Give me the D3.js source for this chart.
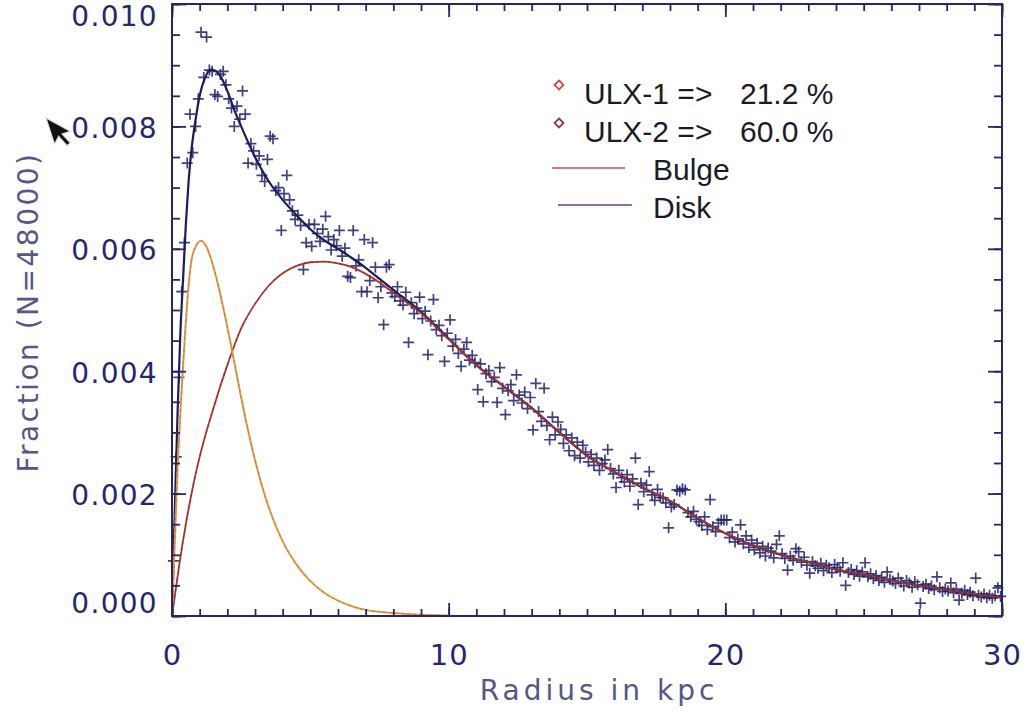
<!DOCTYPE html>
<html>
<head>
<meta charset="utf-8">
<script src="https://cdn.jsdelivr.net/npm/d3@7"></script>
<style>
  html, body { margin: 0; padding: 0; background: #ffffff; }
  svg { display: block; }
</style>
</head>
<body>
<svg id="chart" width="1024" height="717"></svg>
<script>
// Histogram of ULX radii: 0.1 kpc bins from 0 to 30 kpc, fraction per bin
const binWidth = 0.1;
const fraction = [
  0.0009, 0.0026, 0.0039, 0.0053, 0.0061, 0.0074, 0.0082, 0.00757, 0.0080, 0.00845,
  0.00954, 0.0088, 0.00946, 0.00892, 0.0089, 0.00852, 0.00849, 0.00885, 0.0089, 0.00868,
  0.00845, 0.0083, 0.0080, 0.00833, 0.00812, 0.00858, 0.0082, 0.0074, 0.00772, 0.0076,
  0.00738, 0.00752, 0.0072, 0.0071, 0.00746, 0.00784, 0.0078, 0.00695, 0.0070, 0.0063,
  0.0069, 0.0072, 0.0068, 0.00662, 0.00648, 0.00655, 0.00638, 0.00566, 0.0061, 0.0064,
  0.00604, 0.0064, 0.00625, 0.00612, 0.00632, 0.00653, 0.0062, 0.00598, 0.00615, 0.00605,
  0.0063, 0.00588, 0.00601, 0.00555, 0.00553, 0.0063, 0.00572, 0.00582, 0.0053, 0.00615,
  0.0053, 0.00548, 0.0061, 0.0057, 0.0052, 0.00538, 0.00476, 0.0057, 0.00574, 0.00528,
  0.00522, 0.00538, 0.00515, 0.00508, 0.00529, 0.00447, 0.00512, 0.00494, 0.00503, 0.00521,
  0.00486, 0.00498, 0.00427, 0.00482, 0.00517, 0.00468, 0.00475, 0.00458, 0.00416, 0.00462,
  0.00484, 0.00441, 0.00452, 0.00429, 0.00408, 0.00436, 0.00447, 0.00418, 0.00426, 0.00414,
  0.0037, 0.00412, 0.0035, 0.00396, 0.00401, 0.00383, 0.0039, 0.00349, 0.00406, 0.00372,
  0.00329, 0.00368, 0.00378, 0.00352, 0.00394, 0.00361, 0.00348, 0.00366, 0.00339, 0.00357,
  0.00304, 0.0038, 0.00334, 0.00318, 0.00372, 0.00311, 0.00288, 0.00325, 0.00296, 0.00317,
  0.00305, 0.00282, 0.00296, 0.0027, 0.00291, 0.00262, 0.00284, 0.00258, 0.00279, 0.00268,
  0.00252, 0.00264, 0.00246, 0.00258, 0.00238, 0.00249, 0.00255, 0.00272, 0.00241, 0.00232,
  0.0021, 0.00238, 0.00226, 0.00219, 0.00231, 0.00212, 0.00224, 0.00258, 0.00182, 0.00217,
  0.00203, 0.00214, 0.00236, 0.00198, 0.00189, 0.00207, 0.00194, 0.00193, 0.00185, 0.00144,
  0.00178, 0.00182, 0.00206, 0.00204, 0.00208, 0.00206, 0.00169, 0.00162, 0.00171, 0.00158,
  0.00154, 0.00148, 0.00162, 0.00141, 0.0019, 0.00146, 0.00138, 0.00152, 0.00157, 0.00157,
  0.00157, 0.00128, 0.00137, 0.00121, 0.00126, 0.00149, 0.00118, 0.00131, 0.00112, 0.00124,
  0.00108, 0.00119, 0.00103, 0.00114, 0.00098, 0.00111, 0.00106, 0.00095, 0.00117, 0.00131,
  0.00102, 0.00094, 0.00075, 0.00098, 0.00091, 0.0011, 0.00105, 0.00088, 0.00096, 0.00083,
  0.0007, 0.00089, 0.00082, 0.00078, 0.00086, 0.00074, 0.00083, 0.00079, 0.00071, 0.00084,
  0.00079, 0.00073, 0.00087, 0.0005, 0.00071, 0.00076, 0.00068, 0.00074, 0.00065, 0.00072,
  0.00087, 0.00064, 0.00069, 0.00061, 0.00066, 0.00058, 0.00063, 0.00055, 0.00072, 0.0006,
  0.00057, 0.00053, 0.00062, 0.00055, 0.00049, 0.00058, 0.00054, 0.00047, 0.00056, 0.00051,
  0.00021, 0.00048, 0.00052, 0.00045, 0.00049, 0.00043, 0.00064, 0.00046, 0.0004, 0.00044,
  0.00041, 0.00054, 0.00038, 0.00044, 0.00026, 0.00037, 0.00042, 0.00035, 0.00039, 0.00033,
  0.00062, 0.00034, 0.00031, 0.00036, 0.0003, 0.00034, 0.00029, 0.00033, 0.00046, 0.00032
];

// Fitted bulge component [radius kpc, fraction]
const bulgeCurve = [
  [0, 0], [0.1, 0.0012], [0.2, 0.0024], [0.3, 0.0033], [0.4, 0.0041], [0.5, 0.0048],
  [0.6, 0.0054], [0.7, 0.0058], [0.85, 0.00603], [1.05, 0.00613], [1.25, 0.00603],
  [1.5, 0.0057], [1.75, 0.00525], [2.0, 0.00472], [2.25, 0.00415], [2.5, 0.00357],
  [2.75, 0.00303], [3.0, 0.00255], [3.25, 0.00213], [3.5, 0.00177], [4.0, 0.00122],
  [4.5, 0.00084], [5.0, 0.00057], [5.5, 0.00038], [6.0, 0.00025], [6.5, 0.00016],
  [7.0, 0.0001], [8.0, 0.00005], [9.0, 0.00002], [10.0, 0.00001]
];

// Fitted disk component [radius kpc, fraction]
const diskCurve = [
  [0, 0], [0.25, 0.0008], [0.5, 0.0015], [0.75, 0.0021], [1.0, 0.0026], [1.5, 0.0034],
  [2.0, 0.0041], [2.5, 0.0047], [3.0, 0.0051], [3.5, 0.0054], [4.0, 0.0056],
  [4.5, 0.00572], [5.0, 0.00578], [5.5, 0.00579], [6.0, 0.00576], [6.5, 0.0057],
  [7.0, 0.00559], [7.5, 0.00545], [8.0, 0.00528], [9.0, 0.00495], [10.0, 0.00452],
  [11.0, 0.0041], [12.0, 0.00375], [13.0, 0.0034], [14.0, 0.003], [15.0, 0.00262],
  [16.0, 0.00235], [17.0, 0.0021], [18.0, 0.00188], [19.0, 0.0016], [20.0, 0.00135],
  [21.0, 0.00115], [22.0, 0.001], [23.0, 0.00088], [24.0, 0.00076], [25.0, 0.00068],
  [26.0, 0.00058], [27.0, 0.0005], [28.0, 0.00043], [29.0, 0.00036], [30.0, 0.0003]
];

// Combined model [radius kpc, fraction]
const totalCurve = [
  [0, 0], [0.1, 0.0017], [0.2, 0.0033], [0.3, 0.0046], [0.4, 0.0055], [0.5, 0.0064],
  [0.6, 0.0071], [0.7, 0.0076], [0.85, 0.0081], [1.0, 0.0085], [1.2, 0.0088],
  [1.4, 0.00893], [1.6, 0.0089], [1.8, 0.00878], [2.0, 0.00858], [2.25, 0.00827],
  [2.5, 0.008], [3.0, 0.0075], [3.5, 0.0071], [4.0, 0.0068], [4.5, 0.00655],
  [5.0, 0.00632], [5.5, 0.00614], [6.0, 0.006], [6.5, 0.00585], [7.0, 0.00569],
  [7.5, 0.00551], [8.0, 0.00533], [9.0, 0.00497], [10.0, 0.00453], [11.0, 0.0041],
  [12.0, 0.00375], [13.0, 0.0034], [14.0, 0.003], [15.0, 0.00262], [16.0, 0.00235],
  [17.0, 0.0021], [18.0, 0.00188], [19.0, 0.0016], [20.0, 0.00135], [21.0, 0.00115],
  [22.0, 0.001], [23.0, 0.00088], [24.0, 0.00076], [25.0, 0.00068], [26.0, 0.00058],
  [27.0, 0.0005], [28.0, 0.00043], [29.0, 0.00036], [30.0, 0.0003]
];

const xMajorTicks = [0, 10, 20, 30];
const yMajorTicks = [0, 0.002, 0.004, 0.006, 0.008, 0.010];
const legendEntries = [
  { label: "ULX-1 =>", value: "21.2 %", color: "#d8454a" },
  { label: "ULX-2 =>", value: "60.0 %", color: "#8c3a4c" }
];
const legendLines = [
  { label: "Bulge", color: "#d9494a" },
  { label: "Disk", color: "#6c3a82" }
];

const navy = "#262670";
const frame = { left: 172, right: 1002, top: 4, bottom: 616 };

const svg = d3.select("#chart");

const x = d3.scaleLinear().domain([0, 30]).range([frame.left, frame.right]);
const y = d3.scaleLinear().domain([0, 0.010]).range([frame.bottom, frame.top]);

// Data points as plus signs
const points = fraction.map((f, i) => [(i + 0.5) * binWidth, f]);
const cross = 5.5;
svg.append("g")
  .attr("stroke", "#1f1f6c")
  .attr("stroke-width", 1.7)
  .attr("stroke-opacity", 0.85)
  .selectAll("path")
  .data(points)
  .join("path")
  .attr("d", d => {
    const px = x(d[0]), py = y(d[1]);
    return `M${px - cross},${py}H${px + cross}M${px},${py - cross}V${py + cross}`;
  });

const line = d3.line().x(d => x(d[0])).y(d => y(d[1])).curve(d3.curveMonotoneX);

// Combined model
svg.append("path").datum(totalCurve)
  .attr("d", line).attr("fill", "none")
  .attr("stroke", "#1b1b5e").attr("stroke-width", 2.2);

// Disk component: red line with a dark dashed core
svg.append("path").datum(diskCurve)
  .attr("d", line).attr("fill", "none")
  .attr("stroke", "#b2382c").attr("stroke-width", 1.8);
svg.append("path").datum(diskCurve)
  .attr("d", line).attr("fill", "none")
  .attr("stroke", "#3a1830").attr("stroke-width", 0.8)
  .attr("stroke-dasharray", "3,3").attr("stroke-opacity", 0.55);

// Bulge component: orange line with a dark dashed core
svg.append("path").datum(bulgeCurve)
  .attr("d", line).attr("fill", "none")
  .attr("stroke", "#e69a44").attr("stroke-width", 2);
svg.append("path").datum(bulgeCurve)
  .attr("d", line).attr("fill", "none")
  .attr("stroke", "#6a4a3a").attr("stroke-width", 0.7)
  .attr("stroke-dasharray", "3,3").attr("stroke-opacity", 0.5);

// Axes: inward ticks on all four sides
const xMinor = d3.range(0, 31, 1);
const yMinor = d3.range(0, 0.01001, 0.0005);

function styleAxis(g) {
  g.select(".domain").remove();
  g.selectAll(".tick line").attr("stroke", navy).attr("stroke-width", 1.8);
}

svg.append("g").attr("transform", `translate(0,${frame.bottom})`)
  .call(d3.axisBottom(x).tickValues(xMinor).tickSize(-7).tickFormat(""))
  .call(styleAxis);
svg.append("g").attr("transform", `translate(0,${frame.top})`)
  .call(d3.axisTop(x).tickValues(xMinor).tickSize(-7).tickFormat(""))
  .call(styleAxis);
svg.append("g").attr("transform", `translate(0,${frame.top})`)
  .call(d3.axisTop(x).tickValues(xMajorTicks).tickSize(-13).tickFormat(""))
  .call(styleAxis);
const xAxis = svg.append("g").attr("transform", `translate(0,${frame.bottom})`)
  .call(d3.axisBottom(x).tickValues(xMajorTicks).tickSize(-13).tickPadding(28).tickFormat(d3.format("d")))
  .call(styleAxis);
xAxis.selectAll(".tick text")
  .attr("fill", navy)
  .style("font-family", "DejaVu Sans, sans-serif")
  .style("font-size", "29px")
  .style("letter-spacing", "1px");

svg.append("g").attr("transform", `translate(${frame.left},0)`)
  .call(d3.axisLeft(y).tickValues(yMinor).tickSize(-8).tickFormat(""))
  .call(styleAxis);
svg.append("g").attr("transform", `translate(${frame.right},0)`)
  .call(d3.axisRight(y).tickValues(yMinor).tickSize(-8).tickFormat(""))
  .call(styleAxis);
svg.append("g").attr("transform", `translate(${frame.right},0)`)
  .call(d3.axisRight(y).tickValues(yMajorTicks).tickSize(-14).tickFormat(""))
  .call(styleAxis);
const yAxis = svg.append("g").attr("transform", `translate(${frame.left},0)`)
  .call(d3.axisLeft(y).tickValues(yMajorTicks).tickSize(-14).tickPadding(14).tickFormat(d3.format(".3f")))
  .call(styleAxis);
yAxis.selectAll(".tick text")
  .attr("fill", navy)
  .attr("y", d => d === 0.010 ? 13 : (d === 0 ? -12 : 2))
  .style("font-family", "DejaVu Sans, sans-serif")
  .style("font-size", "28px")
  .style("letter-spacing", "1.3px");

// Plot frame
svg.append("rect")
  .attr("x", frame.left).attr("y", frame.top)
  .attr("width", frame.right - frame.left).attr("height", frame.bottom - frame.top)
  .attr("fill", "none").attr("stroke", navy).attr("stroke-width", 2);

// Axis titles
svg.append("text")
  .attr("x", (frame.left + frame.right) / 2 + 12).attr("y", 700)
  .attr("text-anchor", "middle")
  .attr("fill", "#56568a")
  .style("font-family", "DejaVu Sans, sans-serif")
  .style("font-size", "28px")
  .style("letter-spacing", "4px")
  .text("Radius in kpc");

svg.append("text")
  .attr("transform", "translate(38,312) rotate(-90)")
  .attr("text-anchor", "middle")
  .attr("fill", "#56568a")
  .style("font-family", "DejaVu Sans, sans-serif")
  .style("font-size", "28px")
  .style("letter-spacing", "2.5px")
  .text("Fraction (N=48000)");

// Legend
const legend = svg.append("g")
  .style("font-family", "Liberation Sans, Arial, sans-serif")
  .style("font-size", "30px")
  .attr("fill", "#1c1a2a");

const entryRows = [104, 142];
legendEntries.forEach((e, i) => {
  const cy = entryRows[i] - 19;
  legend.append("path")
    .attr("d", `M559,${cy - 4.5}L563.5,${cy}L559,${cy + 4.5}L554.5,${cy}Z`)
    .attr("fill", "none").attr("stroke", e.color).attr("stroke-width", 1.8);
  legend.append("text").attr("x", 584).attr("y", entryRows[i]).text(e.label);
  legend.append("text").attr("x", 740).attr("y", entryRows[i]).text(e.value);
});

const lineRows = [{ y: 168, x0: 552, x1: 625, ty: 180 }, { y: 205, x0: 558, x1: 632, ty: 218 }];
legendLines.forEach((e, i) => {
  const r = lineRows[i];
  legend.append("line")
    .attr("x1", r.x0).attr("x2", r.x1).attr("y1", r.y).attr("y2", r.y)
    .attr("stroke", e.color).attr("stroke-width", 1.6);
  legend.append("text").attr("x", 653).attr("y", r.ty).text(e.label);
});

// Mouse pointer resting near the y axis
svg.append("path")
  .attr("transform", "translate(46,118) rotate(-18) scale(1.15)")
  .attr("d", "M0,0L0,24L5.5,18.5L10,28.5L13.5,27L9,17.5L16.5,17.5Z")
  .attr("fill", "#111111").attr("stroke", "#dddddd").attr("stroke-width", 1);
</script>
</body>
</html>
